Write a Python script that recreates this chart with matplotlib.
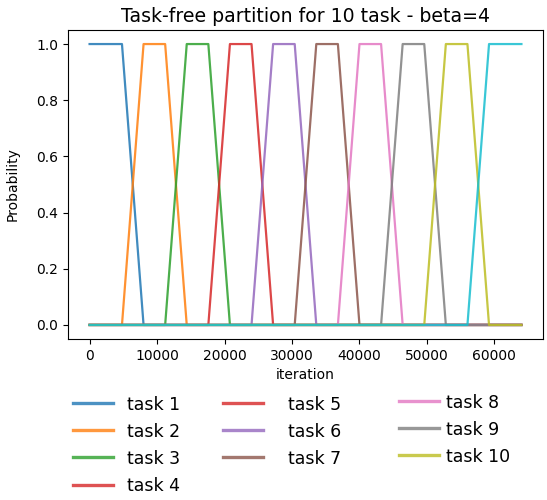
import matplotlib
matplotlib.use("Agg")
import matplotlib.pyplot as plt
from matplotlib.lines import Line2D

# data: where each hand-over between tasks starts / ends
task_labels = ['task 1', 'task 2', 'task 3', 'task 4', 'task 5',
               'task 6', 'task 7', 'task 8', 'task 9', 'task 10']
rise_start = [4800, 11200, 17600, 24000, 30400, 36800, 43200, 49600, 56000]
rise_end = [8000, 14400, 20800, 27200, 33600, 40000, 46400, 52800, 59200]
x_last = 64000

line_colors = ['tab:blue', 'tab:orange', 'tab:green', 'tab:red', 'tab:purple',
               'tab:brown', 'tab:pink', 'tab:gray', 'tab:olive', 'tab:cyan']
# legend colours as they appear in the picture
legend_colors = ['tab:blue', 'tab:orange', 'tab:green', 'tab:red', 'tab:red',
                 'tab:purple', 'tab:brown', 'tab:pink', 'tab:gray', 'tab:olive']

fig = plt.figure(figsize=(5.47, 5.0), dpi=100)
ax = fig.add_axes([0.1243, 0.322, 0.8684, 0.618])

n = len(task_labels)
for k in range(n):
    if k == 0:
        xs = [0, rise_start[0], rise_end[0], x_last]
        ys = [1, 1, 0, 0]
    elif k == n - 1:
        xs = [0, rise_start[k - 1], rise_end[k - 1], x_last]
        ys = [0, 0, 1, 1]
    else:
        xs = [0, rise_start[k - 1], rise_end[k - 1], rise_start[k], rise_end[k], x_last]
        ys = [0, 0, 1, 1, 0, 0]
    ax.plot(xs, ys, color=line_colors[k], linewidth=1.6, alpha=0.85)

ax.set_title('Task-free partition for 10 task - beta=4', fontsize=13.6)
ax.set_xlabel('iteration')
ax.set_ylabel('Probability', labelpad=12)
ax.set_xticks([0, 10000, 20000, 30000, 40000, 50000, 60000])
ax.set_yticks([0.0, 0.2, 0.4, 0.6, 0.8, 1.0])

# legend below the plot, three loose columns
groups = [(0, 4, 0.1335, 0.209, 0.8), (4, 7, 0.4077, 0.209, 1.45), (7, 10, 0.729, 0.213, 0.4)]
for a, b, lx, ly, pad in groups:
    handles = [Line2D([], [], color=legend_colors[i], linewidth=2.4, alpha=0.8)
               for i in range(a, b)]
    fig.legend(handles, task_labels[a:b], loc='upper left', bbox_to_anchor=(lx, ly),
               frameon=False, fontsize=12.5, borderpad=0, borderaxespad=0,
               handlelength=2.3, handletextpad=pad, labelspacing=0.52)

fig.savefig('out.png', dpi=100)
